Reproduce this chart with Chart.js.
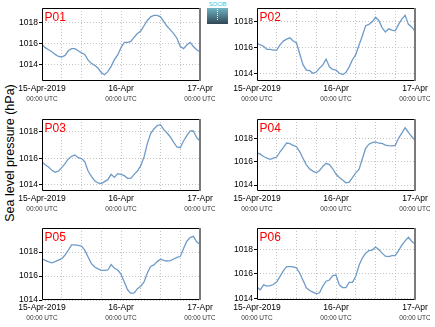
<!DOCTYPE html>
<html>
<head>
<meta charset="utf-8">
<script src="https://cdn.jsdelivr.net/npm/chart.js@4.4.1/dist/chart.umd.min.js"></script>
<style>
  html, body { margin: 0; padding: 0; background: #fff; }
  #wrap { position: relative; width: 435px; height: 327px; overflow: hidden;
          font-family: "Liberation Sans", Arial, Helvetica, sans-serif; }
  .panel { position: absolute; }
  #ytitle { position: absolute; left: 10px; top: 153px; font-size: 12.5px; color: #000;
            white-space: nowrap; transform: translate(-50%, -50%) rotate(-90deg); }
  #logo { position: absolute; left: 207px; top: 1px; width: 21px; height: 23px; }
  #logo span { display: block; font-size: 6px; line-height: 7px; color: #38c4dc; text-align: center;
               letter-spacing: -0.2px; }
  #logo .box { position: absolute; left: 0; top: 7px; width: 21px; height: 16px;
               background: linear-gradient(#6fb3c0, #2f4656); }
  #logo .box i { position: absolute; left: 10px; top: 1px; height: 11px; width: 1px;
                 border-left: 1px dotted #fff; }
</style>
</head>
<body>
<div id="wrap">
  <div id="ytitle">Sea level pressure (hPa)</div>
  <div id="logo"><span>SOCIB</span><div class="box"><i></i></div></div>
</div>
<script>
// Hours since 15-Apr-2019 00:00 UTC
const hours = [0,1,2,3,4,5,6,7,8,9,10,11,12,13,14,15,16,17,18,19,20,21,22,23,24,
               25,26,27,28,29,30,31,32,33,34,35,36,37,38,39,40,41,42,43,44,45,46,47,48];

const stations = ['P01', 'P02', 'P03', 'P04', 'P05', 'P06'];

// Hourly sea level pressure (hPa) per station
const p01 = [1015.9,1015.6,1015.4,1015.2,1014.95,1014.75,1014.7,1014.85,1015.3,1015.5,1015.5,1015.3,1015.1,
             1014.95,1014.4,1014.1,1013.9,1013.65,1013.2,1013.0,1013.3,1013.8,1014.45,1014.9,1015.6,
             1016.1,1016.1,1016.2,1016.6,1016.95,1017.2,1017.7,1018.2,1018.55,1018.7,1018.7,1018.55,
             1018.1,1017.65,1017.3,1016.95,1016.5,1015.7,1015.5,1015.85,1016.1,1015.7,1015.4,1015.2];
const p02 = [1016.35,1016.2,1016.1,1015.85,1015.85,1015.8,1015.8,1016.2,1016.5,1016.65,1016.75,1016.5,1016.35,
             1015.5,1014.65,1014.25,1014.2,1014.0,1014.1,1014.4,1014.65,1015.1,1014.5,1014.3,1014.25,
             1014.0,1013.9,1014.05,1014.5,1015.05,1015.45,1016.2,1016.9,1017.7,1017.8,1018.0,1018.35,
             1018.1,1017.55,1017.2,1017.45,1017.35,1017.3,1017.8,1018.2,1018.5,1017.8,1017.6,1017.25];
const p03 = [1015.75,1015.5,1015.35,1015.1,1014.96,1015.05,1015.3,1015.6,1015.95,1016.15,1016.25,1016.05,1015.98,
             1015.75,1015.05,1014.65,1014.32,1014.15,1014.1,1014.25,1014.4,1014.8,1014.57,1014.85,1014.8,
             1014.7,1014.5,1014.5,1014.8,1015.05,1015.45,1016.1,1017.1,1017.85,1018.2,1018.45,1018.52,
             1018.15,1017.9,1017.6,1017.2,1016.85,1016.8,1017.3,1017.7,1018.05,1018.05,1017.55,1017.3];
const p04 = [1016.75,1016.65,1016.45,1016.3,1016.2,1016.3,1016.4,1016.85,1017.2,1017.6,1017.55,1017.4,1017.28,
             1016.85,1016.28,1015.72,1015.38,1015.2,1015.06,1015.25,1015.6,1015.86,1015.75,1015.4,1014.95,
             1014.65,1014.44,1014.2,1014.25,1014.65,1015.05,1015.35,1016.25,1017.15,1017.5,1017.63,1017.7,
             1017.58,1017.56,1017.42,1017.38,1017.36,1017.4,1018.0,1018.45,1018.9,1018.5,1018.15,1017.84];
const p05 = [1017.44,1017.3,1017.17,1017.1,1017.2,1017.33,1017.45,1017.75,1018.15,1018.6,1018.6,1018.55,1018.5,
             1018.15,1017.58,1017.03,1016.75,1016.6,1016.47,1016.47,1016.5,1016.95,1016.65,1016.5,1016.15,
             1015.5,1014.85,1014.55,1014.6,1014.95,1015.15,1015.5,1016.25,1016.8,1016.93,1017.2,1017.4,
             1017.3,1017.25,1017.28,1017.42,1017.55,1017.62,1018.3,1018.9,1019.2,1019.3,1018.85,1018.64];
const p06 = [1014.91,1014.7,1015.1,1015.0,1015.03,1015.13,1015.35,1015.8,1016.25,1016.6,1016.6,1016.58,1016.49,
             1016.05,1015.46,1014.86,1014.64,1014.5,1014.37,1014.45,1015.0,1015.4,1015.5,1015.85,1015.9,
             1015.1,1014.88,1014.88,1015.3,1015.3,1015.8,1016.7,1017.3,1017.7,1017.9,1017.95,1018.2,
             1018.0,1017.7,1017.45,1017.41,1017.5,1017.5,1017.9,1018.35,1018.7,1019.0,1018.68,1018.45];

const series = [p01, p02, p03, p04, p05, p06];

// Vertical extent of each panel's pressure axis
const yMin = [1012.4, 1013.4, 1013.55, 1013.5, 1014.0, 1013.86];
const yMax = [1019.4, 1019.07, 1018.95, 1019.65, 1020.0, 1019.76];

const pressureTicks = [1014, 1016, 1018];
const gridHours = [0, 6, 12, 18, 24, 30, 36, 42, 48];
const dayTicks = [0, 24, 48];
const dayLabels = ['15-Apr-2019', '16-Apr', '17-Apr'];
const timeLabel = '00:00 UTC';

const FONT = '"Liberation Sans", Arial, Helvetica, sans-serif';
const LINE_COLOR = '#6f9bc8';
const GRID_COLOR = '#c4c4c4';

// Panel placement: two columns, three rows
const colLeft = [0, 215];
const rowTop = [8, 119, 228];
const rowPlotH = [73, 72, 72];
const PAD_TOP = 8, AXIS_W = 42, XLAB_H = 14, XSUB_H = 12, PANEL_W = 215, PAD_RIGHT = 15;

// Frame around the plotting area plus the station name in the corner
const framePlugin = {
  id: 'frame',
  afterDraw(chart, args, opts) {
    const { ctx, chartArea: a } = chart;
    ctx.save();
    ctx.strokeStyle = '#000';
    ctx.lineWidth = 1;
    ctx.beginPath();
    ctx.moveTo(a.right, a.top + 0.5);
    ctx.lineTo(a.left + 0.5, a.top + 0.5);
    ctx.lineTo(a.left + 0.5, a.bottom - 0.5);
    ctx.lineTo(a.right, a.bottom - 0.5);
    ctx.stroke();
    ctx.strokeStyle = '#7a7a7a';
    ctx.lineWidth = 2;
    ctx.beginPath();
    ctx.moveTo(a.right, a.top);
    ctx.lineTo(a.right, a.bottom);
    ctx.stroke();
    ctx.fillStyle = '#ff0000';
    ctx.font = '12px ' + FONT;
    ctx.textBaseline = 'alphabetic';
    ctx.textAlign = 'left';
    ctx.fillText(opts.name, a.left + 2.5, a.top + 12.5);
    ctx.restore();
  }
};

const wrap = document.getElementById('wrap');

series.forEach((values, i) => {
  const col = i % 2, row = Math.floor(i / 2);
  const plotH = rowPlotH[row];
  const canvas = document.createElement('canvas');
  const h = PAD_TOP + plotH + XLAB_H + XSUB_H;
  canvas.width = PANEL_W;
  canvas.height = h;
  canvas.className = 'panel';
  canvas.style.left = colLeft[col] + 'px';
  canvas.style.top = (rowTop[row] - PAD_TOP) + 'px';
  canvas.style.width = PANEL_W + 'px';
  canvas.style.height = h + 'px';
  wrap.appendChild(canvas);

  new Chart(canvas, {
    type: 'line',
    data: {
      datasets: [{
        data: values.map((v, k) => ({ x: hours[k], y: v })),
        borderColor: LINE_COLOR,
        borderWidth: 1.3,
        pointRadius: 0,
        tension: 0,
        fill: false
      }]
    },
    plugins: [framePlugin],
    options: {
      responsive: false,
      animation: false,
      devicePixelRatio: 1,
      layout: { padding: { top: PAD_TOP, right: PAD_RIGHT, left: 0, bottom: 0 } },
      plugins: {
        legend: { display: false },
        tooltip: { enabled: false },
        frame: { name: stations[i] }
      },
      scales: {
        x: {
          type: 'linear', position: 'bottom', min: 0, max: 48, weight: 0,
          afterBuildTicks: s => { s.ticks = gridHours.map(v => ({ value: v })); },
          afterFit: s => { s.height = XLAB_H; s.paddingLeft = 0; s.paddingRight = 0; },
          grid: { color: GRID_COLOR, lineWidth: 1, drawTicks: false },
          border: { display: false, dash: [1, 2] },
          ticks: {
            autoSkip: false, maxRotation: 0, minRotation: 0, padding: 3, color: '#000',
            font: { size: 8.5, family: FONT },
            callback: v => { const k = dayTicks.indexOf(v); return k >= 0 ? dayLabels[k] : ''; }
          }
        },
        x2: {
          type: 'linear', position: 'bottom', min: 0, max: 48, weight: 1,
          afterBuildTicks: s => { s.ticks = dayTicks.map(v => ({ value: v })); },
          afterFit: s => { s.height = XSUB_H; s.paddingLeft = 0; s.paddingRight = 0; },
          grid: { display: false, drawTicks: false },
          border: { display: false },
          ticks: {
            autoSkip: false, maxRotation: 0, minRotation: 0, padding: 0, color: '#333',
            font: { size: 6.5, family: FONT },
            callback: () => timeLabel
          }
        },
        y: {
          type: 'linear', position: 'left', min: yMin[i], max: yMax[i],
          afterBuildTicks: s => { s.ticks = pressureTicks.map(v => ({ value: v })); },
          afterFit: s => { s.width = AXIS_W; s.paddingTop = 0; s.paddingBottom = 0; },
          grid: { color: GRID_COLOR, lineWidth: 1, tickLength: 3, tickColor: '#000', tickBorderDash: [] },
          border: { display: false, dash: [1, 2] },
          ticks: {
            padding: 1, color: '#000',
            font: { size: 8.5, family: FONT },
            callback: v => String(v)
          }
        }
      }
    }
  });
});
</script>
</body>
</html>
